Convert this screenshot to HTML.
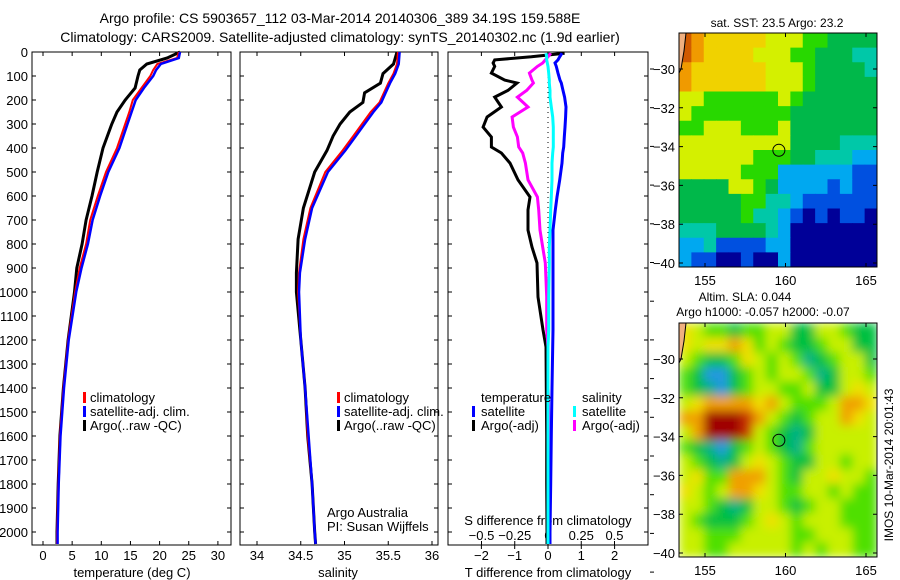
<!DOCTYPE html>
<html><head><meta charset="utf-8"><style>
html,body{margin:0;padding:0;background:#fff;width:900px;height:580px;overflow:hidden}
svg{display:block;font-family:"Liberation Sans",sans-serif}
</style></head><body>
<svg id="fig" width="900" height="580" viewBox="0 0 900 580">
<defs>
<clipPath id="clipTop"><rect x="679" y="33" width="198" height="234"/></clipPath>
<clipPath id="clipBot"><rect x="679" y="323" width="198" height="234"/></clipPath>
<filter id="blur" x="679" y="323" width="198" height="234" filterUnits="userSpaceOnUse"><feGaussianBlur stdDeviation="5" edgeMode="duplicate"/></filter>
</defs>
<text x="340" y="23" font-size="14" text-anchor="middle">Argo profile: CS 5903657_112 03-Mar-2014 20140306_389 34.19S 159.588E</text>
<text x="340" y="42" font-size="14" text-anchor="middle">Climatology: CARS2009. Satellite-adjusted climatology: synTS_20140302.nc (1.9d earlier)</text>
<g id="g"></g>
</svg>
<script>
// ---- data ----
const depthT = [0,25,50,75,100,150,200,250,300,400,500,600,700,800,900,1000,1200,1400,1600,1800,2000,2050];
const tempClim = [23.3,23.0,19.6,18.9,18.4,16.9,15.4,14.8,14.1,12.7,10.8,9.4,8.1,7.4,6.3,5.5,4.3,3.5,2.9,2.6,2.4,2.4];
const tempSat  = [23.5,23.3,20.2,19.4,18.9,17.3,15.9,15.2,14.5,13.1,11.2,9.8,8.5,7.7,6.6,5.7,4.4,3.6,3.0,2.7,2.5,2.5];
const tempArgo = [23.5,21.3,17.8,16.6,16.3,15.8,14.1,12.7,11.8,10.3,9.3,8.4,7.4,6.7,5.8,5.4,4.3,3.5,2.9,2.6,2.4,2.4];
const depthS = [0,50,90,130,170,210,250,300,350,410,500,650,780,920,1000,1200,1400,1600,1800,2000,2050];
const salClim = [35.61,35.6,35.56,35.5,35.45,35.4,35.3,35.2,35.1,34.98,34.78,34.61,34.53,34.48,34.47,34.5,34.55,34.58,34.63,34.66,34.67];
const salSat  = [35.63,35.62,35.58,35.52,35.47,35.42,35.33,35.23,35.13,35.01,34.81,34.63,34.55,34.49,34.48,34.5,34.55,34.59,34.63,34.66,34.67];
const salArgo = [35.6,35.56,35.44,35.41,35.23,35.21,35.06,34.95,34.87,34.8,34.66,34.53,34.47,34.45,34.45,34.5,34.55,34.58,34.63,34.66,34.67];
const depthD = [5,20,33,46,60,88,117,129,160,188,229,271,313,354,396,421,463,533,604,658,742,813,879,1021,1158,1229,1400,1600,1800,2000,2050];
const dTArgo = [0.5,-0.5,-1.6,-1.65,-1.6,-1.7,-1.3,-0.93,-1.2,-1.6,-1.4,-1.83,-1.95,-1.7,-1.7,-1.4,-1.14,-0.9,-0.54,-0.6,-0.6,-0.48,-0.33,-0.3,-0.15,-0.06,-0.05,-0.04,-0.04,-0.03,-0.03];
const dSArgo = [0.02,0.0,-0.02,-0.04,-0.08,-0.14,-0.12,-0.11,-0.16,-0.23,-0.15,-0.27,-0.26,-0.23,-0.22,-0.19,-0.17,-0.15,-0.08,-0.07,-0.06,-0.04,-0.02,-0.01,-0.01,0,0,0.01,0.01,0.01,0.01];
const dTSat  = [0.42,0.35,0.3,0.21,0.25,0.3,0.36,0.4,0.45,0.5,0.54,0.53,0.51,0.49,0.47,0.44,0.42,0.35,0.27,0.22,0.15,0.15,0.15,0.15,0.15,0.14,0.12,0.1,0.08,0.06,0.06];
const dSSat  = [-0.015,-0.01,-0.01,-0.005,0,0.005,0.01,0.01,0.015,0.015,0.025,0.035,0.04,0.04,0.04,0.035,0.03,0.03,0.025,0.02,0.015,0.01,0.01,0.005,0.005,0,0,0,0,0,0];
const depthTicks = [0,100,200,300,400,500,600,700,800,900,1000,1100,1200,1300,1400,1500,1600,1700,1800,1900,2000];
const tempTicks = [0,5,10,15,20,25,30];
const salTicks = [34,34.5,35,35.5,36];
const salTickLabels = ["34","34.5","35","35.5","36"];
const dTTicks = [-2,-1,0,1,2];
const dSTicks = [-0.5,-0.25,0,0.25,0.5];
const dSTickLabels = ["\u22120.5","\u22120.25","0","0.25","0.5"];
const latTicks = [-30,-32,-34,-36,-38,-40];
const lonTicks = [155,160,165];
const argoLon = 159.588, argoLat = -34.19;
const sstGrid = [
"RoYYYYYyyyggGGGG",
"RoYYYYyyyggGGGcc",
"oYYYYYYyyygGGGGc",
"oYYYYYYyyygGGGGG",
"yyggggggygGGGGGG",
"yggggggggGGGGGGG",
"ggyyygggyGGGGGGG",
"yyyyyyyyyGGGGccc",
"yyyyyygggGGcccbb",
"yyyyygggbbbbbbBB",
"GGGGyygGbbbbBbBB",
"GGGGGggccbBBBBBB",
"GGGGGgccbBnBnBBn",
"cccGGGGcbnnnnnnn",
"bbcBBBBbbnnnnnnn",
"bBBnnBnnbnnnnnnn"];
const slaGrid = [
"YyggGggyyGGyygGG",
"YyYYOYgygGGgyyGG",
"ygGGgYygygcGgyyG",
"gGbbGgygyygcGyyg",
"gGcbGgyyggyGGyYy",
"yYOOOOYOygggyOOY",
"OODDDROygGgyyOYy",
"yODDDRygGcGyyyyy",
"gGcbGgygGcgyyyyy",
"ygGcGyYygGGyygyy",
"yYggOOOygGyyYyyg",
"YygyOOYyggyygygg",
"yygGcGyygGgyyggg",
"ygGGGgyYygyyyggg",
"yyggg yyyyggyyygg".replace(" ",""),
"yyggyyyyygygyygg"];
const sstColors = {R:"#d05a00",o:"#f09a00",Y:"#f0d200",y:"#d4f000",g:"#28d800",G:"#00b84a",c:"#00c8a8",b:"#00a8f0",B:"#0050e0",n:"#000098"};
const slaColors = {g:"#50e000",G:"#00c040",y:"#c8f000",Y:"#f0e000",O:"#f0a000",R:"#c83000",D:"#a00000",c:"#00b088",b:"#2098e0"};

// ---- helpers ----
const NS="http://www.w3.org/2000/svg";
const root=document.getElementById('g');
function mk(tag,attrs,parent){const e=document.createElementNS(NS,tag);for(const k in attrs)e.setAttribute(k,attrs[k]);(parent||root).appendChild(e);return e;}
const Y0=52, YS=0.24;
const yD=d=>Y0+d*YS;
const xT=t=>43+5.83*t;
const xS=s=>257+87.5*(s-34);
const xdT=t=>548+33.3*t;
const xdS=s=>548+133*s;
const P1={x0:32,x1:231}, P2={x0:240,x1:438}, P3={x0:448,x1:648};
const YB=545;

function frame(P,name){
  const r=mk('rect',{x:P.x0,y:Y0,width:P.x1-P.x0,height:YB-Y0,fill:'none',stroke:'#000','stroke-width':1});
  
  
  depthTicks.forEach(d=>{
    const t=mk('path',{d:`M${P.x0},${yD(d)}h4M${P.x1},${yD(d)}h-4`,stroke:'#000','stroke-width':1});
    
    
  });
}
function line(xs,ys,fx,color,w,name){
  const pts=xs.map((v,i)=>fx(v).toFixed(1)+','+yD(ys[i]).toFixed(1)).join(' ');
  const p=mk('polyline',{points:pts,fill:'none',stroke:color,'stroke-width':w,'stroke-linejoin':'miter'});
  
  
}
function txt(x,y,s,anchor,size,name,extra){
  const t=mk('text',Object.assign({x:x,y:y,'font-size':size||13,'text-anchor':anchor||'start'},extra||{}));
  t.textContent=s;
  
  
  return t;
}
function legendMark(x,y,color,name){
  const r=mk('rect',{x:x,y:y-10,width:3,height:11,fill:color});
  
  
}

// ---- panel 1: temperature ----
frame(P1,'temperature-panel-frame');
depthTicks.forEach(d=>txt(28,yD(d)+5,String(d),'end',13,'depth-tick-label'));
tempTicks.forEach(t=>{
  const tk=mk('path',{d:`M${xT(t)},${YB}v-4M${xT(t)},${Y0}v4`,stroke:'#000'});
  
  
  txt(xT(t),560,String(t),'middle',13,'temp-tick-label');
});
txt(132,577,'temperature (deg C)','middle',13,'temperature-axis-title');
line(tempArgo,depthT,xT,'#000',3,'temp-argo-line');
line(tempClim,depthT,xT,'#f00',2,'temp-climatology-line');
line(tempSat,depthT,xT,'#00f',2.5,'temp-satellite-line');
legendMark(83,402,'#f00','legend-mark-climatology');
txt(90,402,'climatology','start',13,'legend-climatology');
legendMark(83,416,'#00f','legend-mark-satellite');
txt(90,416,'satellite-adj. clim.','start',13,'legend-satellite');
legendMark(83,430,'#000','legend-mark-argo');
txt(90,430,'Argo(..raw -QC)','start',13,'legend-argo');

// ---- panel 2: salinity ----
frame(P2,'salinity-panel-frame');
salTicks.forEach((s,i)=>{
  const tk=mk('path',{d:`M${xS(s)},${YB}v-4M${xS(s)},${Y0}v4`,stroke:'#000'});
  
  
  txt(xS(s),560,salTickLabels[i],'middle',13,'sal-tick-label');
});
txt(338,577,'salinity','middle',13,'salinity-axis-title');
line(salArgo,depthS,xS,'#000',3,'sal-argo-line');
line(salClim,depthS,xS,'#f00',2,'sal-climatology-line');
line(salSat,depthS,xS,'#00f',2.5,'sal-satellite-line');
legendMark(337,402,'#f00','legend-mark-climatology-2');
txt(344,402,'climatology','start',13,'legend-climatology-2');
legendMark(337,416,'#00f','legend-mark-satellite-2');
txt(344,416,'satellite-adj. clim.','start',13,'legend-satellite-2');
legendMark(337,430,'#000','legend-mark-argo-2');
txt(344,430,'Argo(..raw -QC)','start',13,'legend-argo-2');
txt(327,517,'Argo Australia','start',13,'credit-argo-australia');
txt(327,531,'PI: Susan Wijffels','start',13,'credit-pi');

// ---- panel 3: differences ----
frame(P3,'difference-panel-frame');
dTTicks.forEach(t=>{
  const tk=mk('path',{d:`M${xdT(t)},${YB}v4M${xdT(t)},${Y0}v4`,stroke:'#000'});
  
  
  txt(xdT(t),560,String(t).replace('-','\u2212'),'middle',13,'dT-tick-label');
});
dSTicks.forEach((s,i)=>{
  const tk=mk('path',{d:`M${xdS(s)},${YB}v-4`,stroke:'#000'});
  
  
  txt(xdS(s),540,dSTickLabels[i],'middle',13,'dS-tick-label');
});
txt(548,525,'S difference from climatology','middle',13,'dS-axis-title');
txt(548,577,'T difference from climatology','middle',13,'dT-axis-title');
for(let k=0;k<14;k++){
  const tk=mk('path',{d:`M650,${69+38.7*k}h4`,stroke:'#000'});
  
  
}
const zl=mk('path',{d:`M${xdT(0)},${Y0}V${YB}`,stroke:'#000','stroke-dasharray':'1 4'});


line(dTArgo,depthD,xdT,'#000',3,'dT-argo-line');
line(dSArgo,depthD,xdS,'#f0f',3,'dS-argo-line');
line(dTSat,depthD,xdT,'#00f',3,'dT-satellite-line');
line(dSSat,depthD,xdS,'#0ff',3,'dS-satellite-line');
txt(481,402,'temperature','start',13,'legend-temperature-header');
legendMark(472,416,'#00f','legend-mark-t-sat');
txt(481,416,'satellite','start',13,'legend-t-satellite');
legendMark(472,430,'#000','legend-mark-t-argo');
txt(481,430,'Argo(-adj)','start',13,'legend-t-argo');
txt(582,402,'salinity','start',13,'legend-salinity-header');
legendMark(573,416,'#0ff','legend-mark-s-sat');
txt(582,416,'satellite','start',13,'legend-s-satellite');
legendMark(573,430,'#f0f','legend-mark-s-argo');
txt(582,430,'Argo(-adj)','start',13,'legend-s-argo');

// ---- maps ----
const lonX=l=>705+16.1*(l-155);
function drawMap(grid,colors,top,clip,blurred,name){
  const latY=la=>top+36+19.4*(-30-la);
  const g=mk('g',{'clip-path':`url(#${clip})`});
  
  
  const inner=mk('g',blurred?{filter:'url(#blur)'}:{},g);
  const cw=198/16, ch=234/16;
  grid.forEach((row,r)=>{
    for(let c=0;c<16;c++){
      const cell=mk('rect',{x:(679+c*cw).toFixed(2),y:(top+r*ch).toFixed(2),width:(cw+0.6).toFixed(2),height:(ch+0.6).toFixed(2),fill:colors[row[c]]||'#8d0'},inner);
      
      
    }
  });
  const land=mk('path',{d:`M679,${top} L686,${top} L684,${top+18} L681,${top+36} L679,${top+40}Z`,fill:'#f0b080',stroke:'#000','stroke-width':1},g);
  
  
  const fr=mk('rect',{x:679,y:top,width:198,height:234,fill:'none',stroke:'#000'});
  
  
  latTicks.forEach(la=>{
    const tk=mk('path',{d:`M679,${latY(la)}h4M877,${latY(la)}h-4`,stroke:'#000'});
    
    
    txt(675,latY(la)+5,String(la).replace('-','\u2212'),'end',13,'lat-tick-label');
  });
  lonTicks.forEach(lo=>{
    const tk=mk('path',{d:`M${lonX(lo)},${top}v4M${lonX(lo)},${top+234}v-4`,stroke:'#000'});
    
    
    txt(lonX(lo),top+252,String(lo),'middle',13,'lon-tick-label');
  });
  const c=mk('circle',{cx:lonX(argoLon),cy:latY(argoLat),r:6,fill:'none',stroke:'#000'});
  
  
}
drawMap(sstGrid,sstColors,33,'clipTop',false,'sst-map');
drawMap(slaGrid,slaColors,323,'clipBot',true,'sla-map');
txt(777,27,'sat. SST: 23.5 Argo: 23.2','middle',12,'sst-map-title');
txt(745,301,'Altim. SLA: 0.044','middle',12,'sla-map-title');
txt(763,316,'Argo h1000: -0.057 h2000: -0.07','middle',12,'sla-map-subtitle');
txt(0,0,'IMOS 10-Mar-2014 20:01:43','middle',12,'timestamp-label',{transform:'translate(893,465) rotate(-90)'});
</script>
</body></html>
